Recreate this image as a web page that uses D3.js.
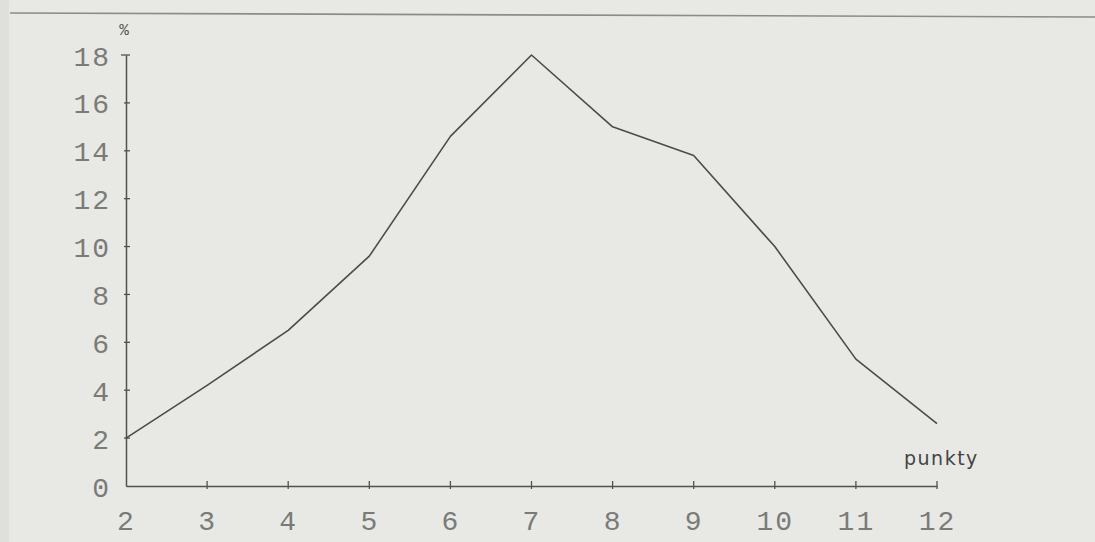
<!DOCTYPE html>
<html>
<head>
<meta charset="utf-8">
<script src="https://cdn.jsdelivr.net/npm/d3@7"></script>
<style>
  html, body { margin: 0; padding: 0; background: #e8e9e5; }
  svg { display: block; }
</style>
</head>
<body>
<svg id="chart" width="1095" height="542"></svg>
<script>
// ---- data ----
const points = [2, 3, 4, 5, 6, 7, 8, 9, 10, 11, 12];
const percent = [2.0, 4.2, 6.5, 9.6, 14.6, 18.0, 15.0, 13.8, 10.0, 5.3, 2.6];
const xTicks = [2, 3, 4, 5, 6, 7, 8, 9, 10, 11, 12];
const yTicks = [0, 2, 4, 6, 8, 10, 12, 14, 16, 18];
const xTitle = "punkty";
const yTitle = "%";

const svg = d3.select("#chart");
const W = 1095, H = 542;

svg.append("rect").attr("width", W).attr("height", H).attr("fill", "#e8e9e5");
// scanned page edge
svg.append("rect").attr("x", 0).attr("y", 0).attr("width", 9).attr("height", H).attr("fill", "#dfe0dc");
svg.append("line").attr("x1", 10).attr("y1", 13).attr("x2", W).attr("y2", 17)
  .attr("stroke", "#8a8c88").attr("stroke-width", 1.6);

const x = d3.scaleLinear().domain([2, 12]).range([126, 937]);
const y = d3.scaleLinear().domain([0, 18]).range([486, 55]);

const axisColor = "#505250";
const labelColor = "#7a7b78";
const labelFont = "'Liberation Mono', 'DejaVu Sans Mono', monospace";

// y axis
const gy = svg.append("g").attr("transform", `translate(${x(2)},0)`)
  .call(d3.axisLeft(y).tickValues(yTicks).tickSize(0).tickPadding(15).tickFormat(d3.format("d")));
gy.select(".domain").attr("stroke", axisColor).attr("stroke-width", 1.5);
gy.selectAll("text").attr("font-family", labelFont).attr("font-size", 28)
  .attr("letter-spacing", 2).attr("fill", labelColor).attr("dy", "0.36em");

// x axis
const gx = svg.append("g").attr("transform", `translate(0,${y(0)})`)
  .call(d3.axisBottom(x).tickValues(xTicks).tickSize(0).tickPadding(34).tickFormat(d3.format("d")));
gx.select(".domain").attr("stroke", axisColor).attr("stroke-width", 1.5);
gx.selectAll("text").attr("font-family", labelFont).attr("font-size", 28)
  .attr("letter-spacing", 2).attr("fill", labelColor).attr("dy", "0.36em");

// crossing tick marks
svg.append("g").selectAll("line").data(yTicks.filter(d => d > 0)).join("line")
  .attr("x1", d => x(2) - (d === 18 ? 5 : 2)).attr("x2", x(2) + 4)
  .attr("y1", d => y(d)).attr("y2", d => y(d))
  .attr("stroke", axisColor).attr("stroke-width", 1.3);
svg.append("g").selectAll("line").data(xTicks.filter(d => d > 2)).join("line")
  .attr("x1", d => x(d)).attr("x2", d => x(d))
  .attr("y1", y(0) - 5).attr("y2", y(0) + 3)
  .attr("stroke", axisColor).attr("stroke-width", 1.3);

// data line
const line = d3.line().x((d, i) => x(points[i])).y(d => y(d));
svg.append("path").datum(percent).attr("d", line)
  .attr("fill", "none").attr("stroke", "#4a4c4a").attr("stroke-width", 1.6)
  .attr("stroke-linejoin", "round");

// titles
svg.append("text").attr("x", x(2) - 2).attr("y", 35).attr("text-anchor", "middle")
  .attr("font-family", labelFont).attr("font-size", 16).attr("fill", "#555")
  .text(yTitle);
svg.append("text").attr("x", 904).attr("y", 465)
  .attr("font-family", "'DejaVu Sans', sans-serif").attr("font-size", 19)
  .attr("letter-spacing", 1.5).attr("fill", "#444")
  .text(xTitle);
</script>
</body>
</html>
